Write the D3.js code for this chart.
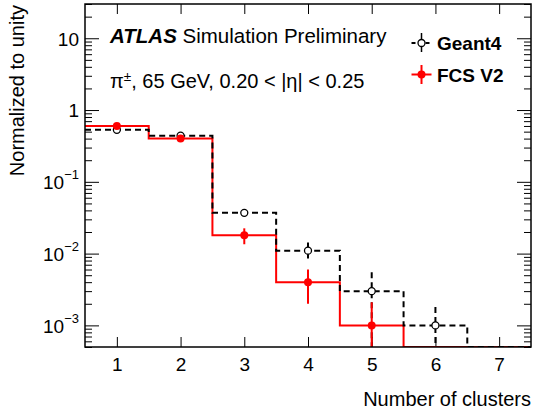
<!DOCTYPE html>
<html>
<head>
<meta charset="utf-8">
<script src="https://cdn.jsdelivr.net/npm/d3@7/dist/d3.min.js"></script>
<style>
  html, body { margin: 0; padding: 0; background: #fff; }
  svg { display: block; font-family: "Liberation Sans", Arial, Helvetica, sans-serif; }
</style>
</head>
<body>
<svg id="chart" width="535" height="415"></svg>
<script>
// Bin centres (number of clusters)
const bins = [1, 2, 3, 4, 5, 6, 7];
// Geant4 reference distribution and its statistical errors
const geant4 = [0.53, 0.44, 0.037, 0.011, 0.003, 0.001, 0];
const geant4Err = [0.005, 0.005, 0.003, 0.0033, 0.0025, 0.0008, 0];
// Fast calorimeter simulation (FCS V2) distribution and errors
const fcs = [0.60, 0.40, 0.018, 0.004, 0.001, 0, 0];
const fcsErr = [0.006, 0.005, 0.0045, 0.002, 0.0011, 0, 0];
// Axis ticks
const xTicks = [1, 2, 3, 4, 5, 6, 7];
const yMajor = [1e-3, 1e-2, 1e-1, 1, 10];
const yLabels = [["10", "\u22123"], ["10", "\u22122"], ["10", "\u22121"], ["1", ""], ["10", ""]];

const svg = d3.select("#chart");
const L = 85, R = 531, T = 4, B = 347;

const x = d3.scaleLinear().domain([0.5, 7.5]).range([L, R]);
const y = d3.scaleLog().domain([5e-4, 30]).range([B, T]).clamp(true);
const yv = v => (v > 0 ? y(v) : B);

const yMinor = [];
for (let e = -4; e <= 1; e++) {
  for (let m = 2; m <= 9; m++) {
    const v = m * Math.pow(10, e);
    if (v >= 5e-4 && v <= 30) yMinor.push(v);
  }
}

// Clip region for the histograms
svg.append("defs").append("clipPath").attr("id", "plotclip")
  .append("rect").attr("x", L).attr("y", T).attr("width", R - L).attr("height", B - T);

const axisStyle = g => {
  g.select(".domain").remove();
  g.selectAll(".tick line").attr("stroke", "#000").attr("stroke-width", 1);
  g.selectAll("text").attr("fill", "#000").attr("font-size", 19);
};

// Left axis: major ticks with labels, minor ticks without
const yLeft = svg.append("g").attr("transform", `translate(${L},0)`)
  .call(d3.axisLeft(y).tickValues(yMajor).tickSize(-14).tickPadding(6).tickFormat(() => ""))
  .call(axisStyle);
yLeft.selectAll(".tick text").each(function (d, i) {
  const t = d3.select(this).attr("dy", "0.36em");
  const [base, sup] = yLabels[i];
  t.append("tspan").text(base);
  if (sup) t.append("tspan").attr("font-size", 13).attr("dy", "-0.75em").text(sup);
});
svg.append("g").attr("transform", `translate(${L},0)`)
  .call(d3.axisLeft(y).tickValues(yMinor).tickSize(-7).tickFormat(() => ""))
  .call(axisStyle);

// Right axis ticks (inward)
svg.append("g").attr("transform", `translate(${R},0)`)
  .call(d3.axisRight(y).tickValues(yMajor).tickSize(-14).tickFormat(() => ""))
  .call(axisStyle);
svg.append("g").attr("transform", `translate(${R},0)`)
  .call(d3.axisRight(y).tickValues(yMinor).tickSize(-7).tickFormat(() => ""))
  .call(axisStyle);

// Bottom and top axes
svg.append("g").attr("transform", `translate(0,${B})`)
  .call(d3.axisBottom(x).tickValues(xTicks).tickSize(-10).tickPadding(6).tickFormat(d3.format("d")))
  .call(axisStyle)
  .selectAll("text").attr("dy", "0.95em");
svg.append("g").attr("transform", `translate(0,${T})`)
  .call(d3.axisTop(x).tickValues(xTicks).tickSize(-10).tickFormat(() => ""))
  .call(axisStyle);

// Histogram step outlines
const stepPoints = vals => {
  const pts = vals.map((v, i) => [bins[i] - 0.5, v]);
  pts.push([bins[bins.length - 1] + 0.5, vals[vals.length - 1]]);
  return pts;
};
const step = d3.line().x(d => x(d[0])).y(d => yv(d[1])).curve(d3.curveStepAfter);

const plot = svg.append("g").attr("clip-path", "url(#plotclip)");

plot.append("path").attr("d", step(stepPoints(fcs)))
  .attr("fill", "none").attr("stroke", "#ff0000").attr("stroke-width", 2);
plot.append("path").attr("d", step(stepPoints(geant4)))
  .attr("fill", "none").attr("stroke", "#000").attr("stroke-width", 2)
  .attr("stroke-dasharray", "6,4");

// Error bars
const errBars = (vals, errs, color, dash) => {
  bins.forEach((b, i) => {
    if (!(vals[i] > 0)) return;
    plot.append("line")
      .attr("x1", x(b)).attr("x2", x(b))
      .attr("y1", yv(vals[i] + errs[i]))
      .attr("y2", yv(vals[i] - errs[i]))
      .attr("stroke", color).attr("stroke-width", 2)
      .attr("stroke-dasharray", dash);
  });
};
errBars(geant4, geant4Err, "#000", "6,4");
errBars(fcs, fcsErr, "#ff0000", null);

// Markers
bins.forEach((b, i) => {
  if (geant4[i] > 0) {
    plot.append("circle").attr("cx", x(b)).attr("cy", yv(geant4[i])).attr("r", 3.5)
      .attr("fill", "#fff").attr("stroke", "#000").attr("stroke-width", 1.3);
  }
});
bins.forEach((b, i) => {
  if (fcs[i] > 0) {
    plot.append("circle").attr("cx", x(b)).attr("cy", yv(fcs[i])).attr("r", 4)
      .attr("fill", "#ff0000");
  }
});

// Frame
svg.append("rect").attr("x", L).attr("y", T).attr("width", R - L).attr("height", B - T)
  .attr("fill", "none").attr("stroke", "#000").attr("stroke-width", 1.5);

// Axis titles
svg.append("text").attr("x", R).attr("y", 406).attr("text-anchor", "end")
  .attr("font-size", 20).text("Number of clusters");
svg.append("text").attr("transform", `translate(24,${T + 1}) rotate(-90)`)
  .attr("text-anchor", "end").attr("font-size", 20).text("Normalized to unity");

// Labels
const lab = svg.append("text").attr("x", 110).attr("y", 43).attr("font-size", 20.5);
lab.append("tspan").attr("font-weight", "bold").attr("font-style", "italic").text("ATLAS");
lab.append("tspan").text(" Simulation Preliminary");

const lab2 = svg.append("text").attr("x", 110).attr("y", 88).attr("font-size", 20);
lab2.append("tspan").text("\u03c0");
lab2.append("tspan").attr("font-size", 13.5).attr("dy", "-0.55em").text("\u00b1");
lab2.append("tspan").attr("dy", "0.37em").text(", 65 GeV, 0.20 < |\u03b7| < 0.25");

// Legend
const lg = svg.append("g");
const lx = 421.5;
lg.append("line").attr("x1", lx - 10).attr("x2", lx + 10).attr("y1", 43).attr("y2", 43)
  .attr("stroke", "#000").attr("stroke-width", 2).attr("stroke-dasharray", "4,3");
lg.append("line").attr("x1", lx).attr("x2", lx).attr("y1", 33).attr("y2", 52)
  .attr("stroke", "#000").attr("stroke-width", 1.5);
lg.append("circle").attr("cx", lx).attr("cy", 43).attr("r", 3.5)
  .attr("fill", "#fff").attr("stroke", "#000").attr("stroke-width", 1.3);
lg.append("text").attr("x", 437).attr("y", 49.5).attr("font-size", 19).attr("font-weight", "bold")
  .text("Geant4");

lg.append("line").attr("x1", lx - 10).attr("x2", lx + 10).attr("y1", 74.5).attr("y2", 74.5)
  .attr("stroke", "#ff0000").attr("stroke-width", 2);
lg.append("line").attr("x1", lx).attr("x2", lx).attr("y1", 65).attr("y2", 84)
  .attr("stroke", "#ff0000").attr("stroke-width", 2);
lg.append("circle").attr("cx", lx).attr("cy", 74.5).attr("r", 4).attr("fill", "#ff0000");
lg.append("text").attr("x", 437).attr("y", 81.5).attr("font-size", 19).attr("font-weight", "bold")
  .text("FCS V2");
</script>
</body>
</html>
